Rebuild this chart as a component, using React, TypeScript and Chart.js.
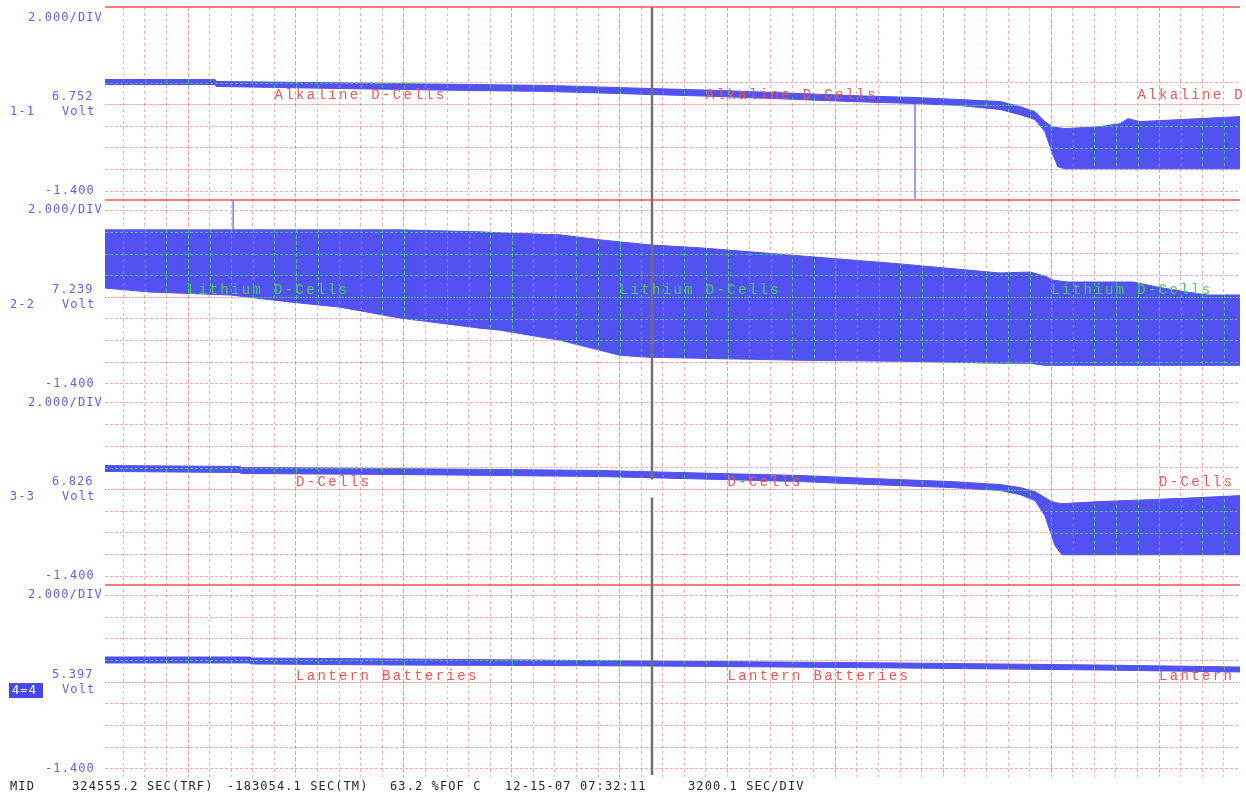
import React, { useEffect, useRef } from 'react';
import { Chart, registerables } from 'chart.js';

Chart.register(...registerables);

const WIDTH = 1246;
const HEIGHT = 797;

// Horizontal: time in grid divisions (3200.1 s / div), 0 on the first bold grid line.
// Vertical: volts, 2 V per division, lowest grid line at -1.4 V, middle line at 6.6 V.

// Channel 1-1 : Alkaline D-Cells
const alkalineX = [-3.85, 1.25, 1.30, 9.82, 16.77, 21.41, 24.65, 28.36, 30.68, 33.69, 35.77, 37.63, 38.55, 39.25, 39.71, 40.04, 40.31, 40.64, 42.26, 43.19, 43.56, 44.12, 45.97, 48.75];
const alkalineHigh = [8.91, 8.91, 8.73, 8.54, 8.36, 8.08, 7.90, 7.62, 7.43, 7.25, 7.06, 6.88, 6.41, 5.95, 5.03, 4.56, 4.47, 4.38, 4.56, 4.84, 5.30, 5.03, 5.21, 5.49];
const alkalineLow = [8.45, 8.45, 8.27, 7.99, 7.80, 7.53, 7.34, 7.06, 6.88, 6.69, 6.51, 6.14, 5.67, 5.21, 4.10, 2.16, 0.86, 0.67, 0.67, 0.67, 0.67, 0.67, 0.67, 0.67];

// Channel 2-2 : Lithium D-Cells
const lithiumX = [-3.85, -1.76, 1.95, 4.73, 7.04, 9.82, 13.53, 14.46, 17.24, 19.09, 20.02, 21.41, 23.73, 28.36, 32.99, 37.63, 39.02, 39.71, 40.08, 40.73, 43.79, 44.90, 46.29, 47.22, 48.75];
const lithiumHigh = [12.80, 12.80, 12.80, 12.80, 12.80, 12.80, 12.62, 12.53, 12.34, 11.88, 11.69, 11.41, 11.14, 10.40, 9.66, 8.82, 8.91, 8.54, 8.17, 7.99, 7.99, 7.53, 7.06, 6.79, 6.79];
const lithiumLow = [7.43, 7.06, 6.79, 6.14, 5.67, 4.66, 3.73, 3.54, 2.61, 1.69, 1.22, 1.04, 0.95, 0.77, 0.67, 0.49, 0.49, 0.30, 0.30, 0.30, 0.30, 0.30, 0.30, 0.30, 0.30];

// Channel 3-3 : D-Cells
const dcellX = [-3.85, 2.41, 2.46, 9.82, 19.09, 22.80, 24.65, 28.36, 31.60, 35.31, 37.63, 38.55, 39.25, 39.71, 39.94, 40.18, 40.50, 42.26, 44.58, 46.90, 48.75];
const dcellHigh = [8.82, 8.73, 8.64, 8.54, 8.36, 8.17, 8.08, 7.90, 7.62, 7.34, 7.06, 6.79, 6.41, 5.86, 5.58, 5.40, 5.30, 5.49, 5.67, 5.86, 6.04];
const dcellLow = [8.27, 8.17, 8.08, 7.99, 7.80, 7.62, 7.53, 7.34, 7.06, 6.79, 6.51, 6.14, 5.58, 4.19, 2.80, 1.41, 0.58, 0.58, 0.58, 0.58, 0.58];

// Channel 4=4 : Lantern Batteries
const lanternX = [-3.85, 2.87, 2.92, 9.82, 21.50, 32.99, 42.26, 48.75];
const lanternHigh = [8.91, 8.91, 8.82, 8.73, 8.54, 8.36, 8.17, 7.99];
const lanternLow = [8.36, 8.36, 8.27, 8.17, 8.08, 7.90, 7.71, 7.53];

// Single-sample glitches
const glitch1X = [33.69, 33.69];
const glitch1Y = [6.7, -2.1];
const glitch2X = [2.09, 2.09];
const glitch2Y = [15.6, 12.8];

// Cursor
const cursorX = 21.5;
const cursorGapY3 = [7.53, 5.86];

// Axis ranges and grid values
const X_MIN = -3.85;
const X_MAX = 48.75;
const V_MIN = -2.16;
const V_MAX = 15.6;
const GRID_VALUES = [-1.4, 0.6, 2.6, 4.6, 6.6, 8.6, 10.6, 12.6, 14.6];
const CENTER_VALUE = 6.6;
const TOP_VALUE = 14.6;
const BOTTOM_VALUE = -1.4;

// Texts
const channelIds = ['1-1', '2-2', '3-3', '4=4'];
const channelReadings = ['6.752', '7.239', '6.826', '5.397'];
const scaleText = '2.000/DIV';
const bottomText = '-1.400';
const unitText = 'Volt';
const channelNames = ['Alkaline D-Cells', 'Lithium D-Cells', 'D-Cells', 'Lantern Batteries'];
const nameStarts = [[4, 24, 44], [0, 20, 40], [5, 25, 45], [5, 25, 45]];
const nameLevels = [7.43, 7.25, 7.25, 7.16];
const statusTexts = ['MID', '324555.2 SEC(TRF)', '-183054.1 SEC(TM)', '63.2 %FOF C', '12-15-07 07:32:11', '3200.1 SEC/DIV'];
const statusStarts = [10, 72, 227, 390, 505, 688];

const AXES = ['y1', 'y2', 'y3', 'y4'];
const panelGridCounts = [6, 9, 9, 9];
const panelBoundary = [true, true, false, true];

const BLUE = 'rgb(82,82,242)';
const GLITCH = 'rgb(120,120,240)';
const LABEL_BLUE = 'rgb(95,95,235)';
const TEXT_RED = 'rgb(238,85,85)';
const TEXT_GREEN = 'rgb(70,205,90)';
const GREEN_GRID = 'rgba(70,215,100,0.85)';

const near = (a: number, b: number) => Math.abs(a - b) < 1e-6;
const xDash = (v: number) => (Math.round(v) % 5 === 0 ? [4, 2] : [3, 3]);
const yDash = (v: number) => (near(v, CENTER_VALUE) ? [2, 1] : [3, 2]);

const pts = (xs: number[], ys: number[]) => xs.map((x, i) => ({ x, y: ys[i] }));

function band(xs: number[], hi: number[], lo: number[], axis: string) {
  return [
    { data: pts(xs, hi), yAxisID: axis, borderColor: BLUE, borderWidth: 1, pointRadius: 0, fill: false, tension: 0 },
    { data: pts(xs, lo), yAxisID: axis, borderColor: BLUE, borderWidth: 1, pointRadius: 0, fill: '-1', backgroundColor: BLUE, tension: 0 },
  ];
}

function yAxis(i: number) {
  return {
    type: 'linear',
    position: 'left',
    stack: 'panels',
    stackWeight: 1,
    weight: 4 - i,
    min: V_MIN,
    max: V_MAX,
    afterBuildTicks: (s: any) => {
      const vals = GRID_VALUES.slice(0, panelGridCounts[i]);
      if (panelBoundary[i]) vals.push(V_MAX);
      s.ticks = vals.map((v) => ({ value: v }));
    },
    afterFit: (s: any) => { s.width = 0; },
    ticks: { display: false, autoSkip: false },
    border: {
      display: false,
      dash: (c: any) => {
        if (!c.tick) return [];
        const v = c.tick.value;
        return near(v, V_MAX) ? [] : yDash(v);
      },
    },
    grid: {
      z: 1,
      drawTicks: false,
      color: (c: any) => {
        if (!c.tick) return 'rgba(255,60,60,0.45)';
        const v = c.tick.value;
        if (near(v, V_MAX)) return 'rgba(255,110,110,0.9)';
        if (near(v, CENTER_VALUE)) return 'rgba(255,60,60,0.5)';
        return 'rgba(255,60,60,0.45)';
      },
      lineWidth: (c: any) => (c.tick && near(c.tick.value, V_MAX) ? 2 : 1),
    },
  };
}

const overlay = {
  id: 'scopeOverlay',
  afterDatasetsDraw(chart: any) {
    const { ctx, chartArea: a } = chart;
    ctx.save();
    ctx.globalCompositeOperation = 'source-atop';
    ctx.strokeStyle = GREEN_GRID;
    ctx.lineWidth = 1;
    const xs = chart.scales.x;
    for (const t of xs.ticks) {
      const p = Math.round(xs.getPixelForValue(t.value)) + 0.5;
      ctx.setLineDash(xDash(t.value));
      ctx.beginPath();
      ctx.moveTo(p, a.top);
      ctx.lineTo(p, a.bottom);
      ctx.stroke();
    }
    AXES.forEach((id) => {
      const s = chart.scales[id];
      for (const t of s.ticks) {
        if (near(t.value, V_MAX)) continue;
        const p = Math.round(s.getPixelForValue(t.value)) + 0.5;
        ctx.setLineDash(yDash(t.value));
        ctx.beginPath();
        ctx.moveTo(a.left, p);
        ctx.lineTo(a.right, p);
        ctx.stroke();
      }
    });
    ctx.restore();
    ctx.globalCompositeOperation = 'destination-over';
  },
  afterDraw(chart: any) {
    const { ctx, chartArea: a } = chart;
    ctx.globalCompositeOperation = 'source-over';
    ctx.save();
    const xs = chart.scales.x;

    // cursor line
    const cx = xs.getPixelForValue(cursorX);
    const y3 = chart.scales.y3;
    ctx.strokeStyle = 'rgb(115,115,115)';
    ctx.lineWidth = 2.5;
    ctx.setLineDash([]);
    ctx.beginPath();
    ctx.moveTo(cx, a.top);
    ctx.lineTo(cx, y3.getPixelForValue(cursorGapY3[0]));
    ctx.moveTo(cx, y3.getPixelForValue(cursorGapY3[1]));
    ctx.lineTo(cx, a.bottom - 2);
    ctx.stroke();

    // trace names
    ctx.textBaseline = 'middle';
    ctx.textAlign = 'left';
    ctx.font = '14px "Liberation Mono", "DejaVu Sans Mono", monospace';
    (ctx as any).letterSpacing = '2.35px';
    AXES.forEach((id, i) => {
      const s = chart.scales[id];
      ctx.fillStyle = i === 1 ? TEXT_GREEN : TEXT_RED;
      for (const st of nameStarts[i]) {
        ctx.fillText(channelNames[i], xs.getPixelForValue(st), s.getPixelForValue(nameLevels[i]));
      }
    });

    // left channel labels
    ctx.font = '12px "DejaVu Sans Mono", monospace';
    (ctx as any).letterSpacing = '1.1px';
    AXES.forEach((id, i) => {
      const s = chart.scales[id];
      const yc = s.getPixelForValue(CENTER_VALUE);
      ctx.fillStyle = LABEL_BLUE;
      ctx.fillText(scaleText, 28, s.getPixelForValue(TOP_VALUE));
      ctx.fillText(bottomText, 45, s.getPixelForValue(BOTTOM_VALUE));
      ctx.fillText(channelReadings[i], 52, yc - 7.5);
      ctx.fillText(unitText, 62, yc + 7.5);
      if (i === 3) {
        ctx.fillStyle = 'rgb(70,70,235)';
        ctx.fillRect(9, yc + 1, 34, 15);
        ctx.fillStyle = '#ffffff';
        ctx.fillText(channelIds[i], 12, yc + 8.5);
      } else {
        ctx.fillText(channelIds[i], 10, yc + 7.5);
      }
    });

    // status line
    ctx.fillStyle = '#262626';
    statusTexts.forEach((t, i) => ctx.fillText(t, statusStarts[i], 787));
    ctx.restore();
  },
};

export default function App() {
  const ref = useRef<HTMLCanvasElement>(null);
  useEffect(() => {
    document.body.style.margin = '0';
    const datasets: any[] = [
      ...band(alkalineX, alkalineHigh, alkalineLow, 'y1'),
      ...band(lithiumX, lithiumHigh, lithiumLow, 'y2'),
      ...band(dcellX, dcellHigh, dcellLow, 'y3'),
      ...band(lanternX, lanternHigh, lanternLow, 'y4'),
      { data: pts(glitch1X, glitch1Y), yAxisID: 'y1', borderColor: GLITCH, borderWidth: 1.5, pointRadius: 0, fill: false },
      { data: pts(glitch2X, glitch2Y), yAxisID: 'y2', borderColor: GLITCH, borderWidth: 1.5, pointRadius: 0, fill: false },
    ];
    const chart = new Chart(ref.current as HTMLCanvasElement, {
      type: 'line',
      data: { datasets },
      options: {
        responsive: false,
        animation: false,
        devicePixelRatio: 1,
        layout: { padding: { left: 105, right: 6, top: 7, bottom: 20 } },
        plugins: { legend: { display: false }, tooltip: { enabled: false } },
        scales: {
          x: {
            type: 'linear',
            position: 'bottom',
            min: X_MIN,
            max: X_MAX,
            afterBuildTicks: (s: any) => {
              const t = [];
              for (let v = Math.ceil(X_MIN); v <= Math.floor(X_MAX); v++) t.push({ value: v });
              s.ticks = t;
            },
            afterFit: (s: any) => { s.height = 0; },
            ticks: { display: false, autoSkip: false },
            border: {
              display: false,
              dash: (c: any) => (c.tick ? xDash(c.tick.value) : []),
            },
            grid: {
              z: 1,
              drawTicks: false,
              color: (c: any) =>
                c.tick && Math.round(c.tick.value) % 5 === 0 ? 'rgba(255,60,60,0.55)' : 'rgba(255,60,60,0.45)',
              lineWidth: 1,
            },
          },
          y1: yAxis(0),
          y2: yAxis(1),
          y3: yAxis(2),
          y4: yAxis(3),
        } as any,
      },
      plugins: [overlay],
    } as any);
    return () => chart.destroy();
  }, []);
  return (
    <div style={{ position: 'fixed', left: 0, top: 0, width: WIDTH, height: HEIGHT, background: '#ffffff' }}>
      <canvas ref={ref} width={WIDTH} height={HEIGHT} style={{ display: 'block' }} />
    </div>
  );
}
